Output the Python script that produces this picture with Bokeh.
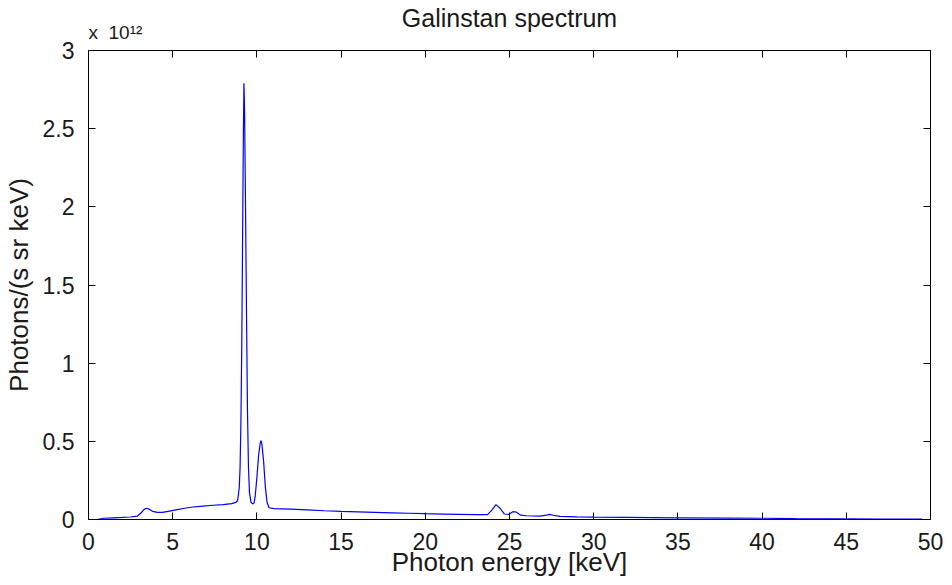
from bokeh.plotting import figure
from bokeh.models import (FixedTicker, NumeralTickFormatter, Range1d, Title, LinearAxis)
from bokeh.embed import file_html
from bokeh.resources import INLINE

# ---- data (intensity in units of 1e12 photons/(s sr keV)) ----
SCALE_EXP = 12
energy_keV = [0.5, 0.9, 1.5, 2.0, 2.5, 2.9, 3.1, 3.3, 3.45, 3.6, 3.8, 4.1, 4.4, 4.8,
              5.2, 5.7, 6.2, 6.8, 7.4, 8.0, 8.5, 8.75, 8.85, 8.95, 9.0, 9.05, 9.1,
              9.15, 9.2, 9.23, 9.27, 9.32, 9.38, 9.44, 9.5, 9.56, 9.65, 9.75, 9.83,
              9.9, 10.0, 10.1, 10.2, 10.25, 10.3, 10.4, 10.5, 10.6, 10.72, 11.0,
              12.0, 13.0, 14.0, 15.0, 16.0, 17.0, 18.0, 19.0, 20.0, 21.0, 22.0,
              23.0, 23.7, 23.95, 24.2, 24.45, 24.7, 24.95, 25.2, 25.4, 25.65, 26.0,
              26.8, 27.2, 27.4, 27.6, 28.0, 29.0, 30.0, 32.0, 35.0, 38.0, 40.0,
              42.0, 45.0, 47.0, 49.5]
intensity = [0.0, 0.008, 0.011, 0.013, 0.016, 0.022, 0.04, 0.065, 0.072, 0.066, 0.052,
             0.046, 0.046, 0.054, 0.062, 0.072, 0.08, 0.086, 0.091, 0.095, 0.102,
             0.11, 0.12, 0.2, 0.33, 0.62, 1.1, 1.8, 2.5, 2.79, 2.6, 2.05, 1.35, 0.7,
             0.33, 0.17, 0.11, 0.1, 0.105, 0.15, 0.27, 0.41, 0.49, 0.505, 0.48,
             0.37, 0.21, 0.11, 0.075, 0.07, 0.066, 0.061, 0.056, 0.052, 0.049,
             0.046, 0.043, 0.04, 0.037, 0.035, 0.033, 0.031, 0.031, 0.06, 0.095,
             0.07, 0.035, 0.032, 0.05, 0.048, 0.028, 0.024, 0.022, 0.028, 0.033,
             0.027, 0.02, 0.017, 0.015, 0.013, 0.011, 0.009, 0.008, 0.006, 0.004,
             0.003, 0.002]
x_ticks = [0, 5, 10, 15, 20, 25, 30, 35, 40, 45, 50]
y_ticks = [0, 0.5, 1, 1.5, 2, 2.5, 3]
X_MAX = 50
Y_MAX = 3

FONT = "Liberation Sans"
TXT = "#1a1a1a"
W, H = 952, 585
LEFT, RIGHT, TOP, BOTTOM = 88, 22, 50, 66
TICK_PX = 7

p = figure(width=W, height=H, output_backend="svg", toolbar_location=None,
           title=None,
           x_range=Range1d(0, X_MAX), y_range=Range1d(0, Y_MAX),
           min_border_left=LEFT, min_border_right=RIGHT, min_border_top=TOP,
           min_border_bottom=BOTTOM, background_fill_color="white",
           border_fill_color="white")
p.outline_line_color = "black"
p.outline_line_width = 1
p.xgrid.visible = False
p.ygrid.visible = False

p.line(energy_keV, intensity, line_color="#0000ff", line_width=1.2)

def style_axis(ax, labels=True):
    ax.axis_line_color = "black"
    ax.axis_line_width = 1
    ax.major_tick_in = TICK_PX
    ax.major_tick_out = 0
    ax.major_tick_line_color = "black"
    ax.major_tick_line_width = 1
    ax.minor_tick_in = 0
    ax.minor_tick_out = 0
    ax.major_label_text_font = FONT
    if labels:
        ax.major_label_text_color = TXT
        ax.major_label_text_font_size = "23px"
    else:
        ax.major_label_text_color = None
        ax.major_label_text_font_size = "1px"
        ax.major_label_standoff = 0
    ax.axis_label_text_font = FONT
    ax.axis_label_text_font_style = "normal"
    ax.axis_label_text_color = TXT
    ax.axis_label_text_font_size = "26px"

xa = p.xaxis[0]
xa.ticker = FixedTicker(ticks=x_ticks)
xa.axis_label = "Photon energy [keV]"
style_axis(xa)
xa.major_label_standoff = 13
xa.axis_label_standoff = -6

ya = p.yaxis[0]
ya.ticker = FixedTicker(ticks=y_ticks)
ya.formatter = NumeralTickFormatter(format="0.[0]")
ya.axis_label = "Photons/(s sr keV)"
style_axis(ya)
ya.major_label_standoff = 14
ya.axis_label_standoff = 6

# box-style ticks on the top and right borders (no labels)
top_ax = LinearAxis(ticker=FixedTicker(ticks=x_ticks))
style_axis(top_ax, labels=False)
p.add_layout(top_ax, "above")
right_ax = LinearAxis(ticker=FixedTicker(ticks=y_ticks))
style_axis(right_ax, labels=False)
p.add_layout(right_ax, "right")

SUP = str.maketrans("0123456789", "⁰¹²³⁴⁵⁶⁷⁸⁹")
p.add_layout(Title(text="x\u00a0 10" + str(SCALE_EXP).translate(SUP), align="left",
                   text_font=FONT, text_font_size="19px", text_color=TXT,
                   text_font_style="normal", standoff=15), "above")
p.add_layout(Title(text="Galinstan spectrum", align="center",
                   text_font=FONT, text_font_size="25px", text_color=TXT,
                   text_font_style="normal", standoff=-38), "above")

open("out.html", "w").write(file_html(p, INLINE))
